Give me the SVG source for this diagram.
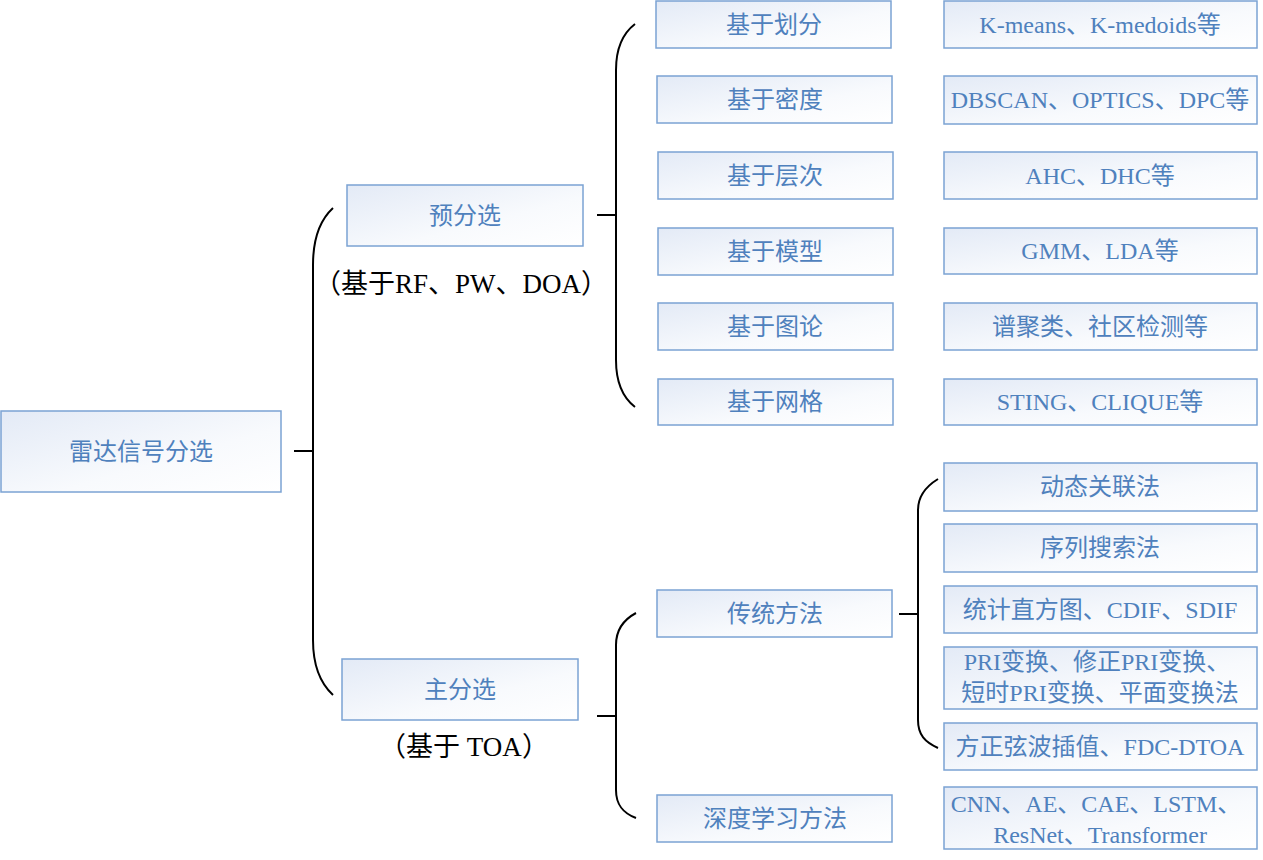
<svg xmlns="http://www.w3.org/2000/svg" width="1263" height="860" viewBox="0 0 1263 860">
<style>
.box{fill:url(#g);stroke:#7ba3d3;stroke-width:1.5}
.t{font-family:"Liberation Serif","Noto Sans CJK SC",serif;font-size:24px;fill:#4f81bd;text-anchor:middle}
.c{font-family:"Noto Sans CJK SC",sans-serif;font-size:24px;fill:#4f81bd;text-anchor:middle}
.lbl{font-family:"Liberation Serif","Noto Sans CJK SC",serif;font-size:27px;fill:#000;text-anchor:middle}
.k{font-family:"Noto Sans CJK SC",sans-serif}
.s{font-family:"Liberation Serif",serif}
.ln{fill:none;stroke:#000;stroke-width:2}
</style>
<defs>
<linearGradient id="g" x1="0" y1="0" x2="1" y2="1">
<stop offset="0" stop-color="#e3eaf6"/>
<stop offset="0.6" stop-color="#f8fafd"/>
<stop offset="1" stop-color="#ffffff"/>
</linearGradient>
</defs>
<rect width="1263" height="860" fill="#fff"/>
<g id="connectors">
<path class="ln" d="M294,451 H313"/>
<path class="ln" d="M333,208 C320,220 313,240 313,265 V640 C313,665 320,683 333,695"/>
<path class="ln" d="M597,215 H616"/>
<path class="ln" d="M635,24 C622,34 616,50 616,70 V360 C616,382 622,397 635,407"/>
<path class="ln" d="M597,716 H616"/>
<path class="ln" d="M636,613 C623,620 616,630 616,645 V790 C616,805 623,813 636,818"/>
<path class="ln" d="M899,614 H918"/>
<path class="ln" d="M938,479 C925,487 918,497 918,510 V720 C918,735 925,742 938,748"/>
</g>
<g id="root"><rect class="box" x="1" y="411" width="280" height="81"/><text class="c" x="141" y="460">雷达信号分选</text></g>
<g id="pre"><rect class="box" x="347" y="185" width="236" height="61"/><text class="c" x="465" y="224">预分选</text></g>
<text class="lbl" x="461" y="293"><tspan class="k">（基于</tspan><tspan class="s">RF</tspan><tspan class="k">、</tspan><tspan class="s">PW</tspan><tspan class="k">、</tspan><tspan class="s">DOA</tspan><tspan class="k">）</tspan></text>
<g id="main"><rect class="box" x="342" y="659" width="236" height="61"/><text class="c" x="460" y="698">主分选</text></g>
<text class="lbl" x="464" y="756"><tspan class="k">（基于</tspan><tspan class="s"> TOA</tspan><tspan class="k">）</tspan></text>
<g id="a1"><rect class="box" x="656" y="1" width="235" height="47"/><text class="c" x="774" y="33">基于划分</text></g>
<g id="a2"><rect class="box" x="657" y="76" width="235" height="47"/><text class="c" x="775" y="108">基于密度</text></g>
<g id="a3"><rect class="box" x="658" y="152" width="235" height="47"/><text class="c" x="775" y="184">基于层次</text></g>
<g id="a4"><rect class="box" x="658" y="228" width="235" height="47"/><text class="c" x="775" y="260">基于模型</text></g>
<g id="a5"><rect class="box" x="658" y="303" width="235" height="47"/><text class="c" x="775" y="335">基于图论</text></g>
<g id="a6"><rect class="box" x="658" y="379" width="235" height="46"/><text class="c" x="775" y="410">基于网格</text></g>
<g id="b1"><rect class="box" x="944" y="1" width="313" height="47"/><text class="t" x="1100" y="33">K-means、K-medoids等</text></g>
<g id="b2"><rect class="box" x="944" y="76" width="313" height="48"/><text class="t" x="1100" y="108">DBSCAN、OPTICS、DPC等</text></g>
<g id="b3"><rect class="box" x="944" y="152" width="313" height="47"/><text class="t" x="1100" y="184">AHC、DHC等</text></g>
<g id="b4"><rect class="box" x="944" y="228" width="313" height="46"/><text class="t" x="1100" y="259">GMM、LDA等</text></g>
<g id="b5"><rect class="box" x="944" y="303" width="313" height="47"/><text class="c" x="1100" y="335">谱聚类、社区检测等</text></g>
<g id="b6"><rect class="box" x="944" y="379" width="313" height="46"/><text class="t" x="1100" y="410">STING、CLIQUE等</text></g>
<g id="trad"><rect class="box" x="657" y="590" width="235" height="47"/><text class="c" x="775" y="622">传统方法</text></g>
<g id="deep"><rect class="box" x="657" y="795" width="235" height="47"/><text class="c" x="775" y="827">深度学习方法</text></g>
<g id="c1"><rect class="box" x="944" y="463" width="313" height="48"/><text class="c" x="1100" y="495">动态关联法</text></g>
<g id="c2"><rect class="box" x="944" y="524" width="313" height="48"/><text class="c" x="1100" y="556">序列搜索法</text></g>
<g id="c3"><rect class="box" x="944" y="586" width="313" height="47"/><text class="t" x="1100" y="618">统计直方图、CDIF、SDIF</text></g>
<g id="c4"><rect class="box" x="944" y="647" width="313" height="62"/><text class="t" x="1097" y="670">PRI变换、修正PRI变换、</text><text class="t" x="1100" y="701">短时PRI变换、平面变换法</text></g>
<g id="c5"><rect class="box" x="944" y="723" width="313" height="47"/><text class="t" x="1100" y="755">方正弦波插值、FDC-DTOA</text></g>
<g id="d1"><rect class="box" x="944" y="787" width="313" height="62"/><text class="t" x="1096" y="812">CNN、AE、CAE、LSTM、</text><text class="t" x="1100" y="843">ResNet、Transformer</text></g>
</svg>
